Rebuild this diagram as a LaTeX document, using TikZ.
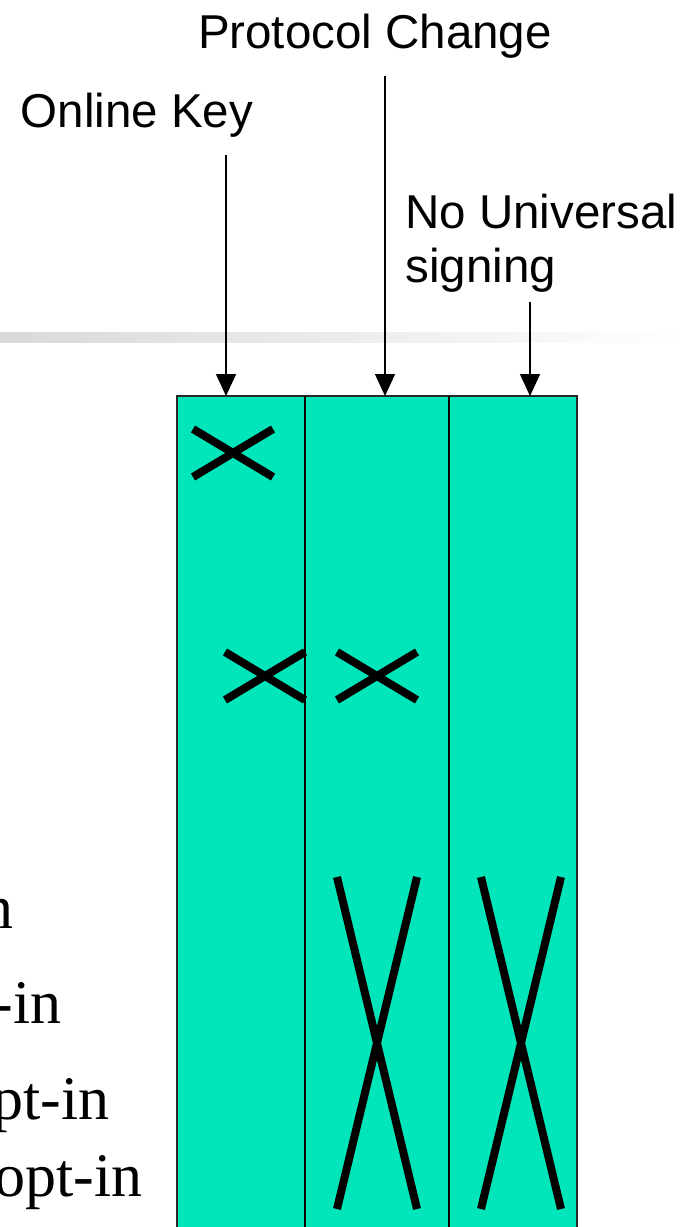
\documentclass[tikz,border=0pt]{standalone}
\usepackage{fontspec}
\setmainfont{Liberation Serif}
\newfontfamily\labelfont{Liberation Sans}
\usetikzlibrary{arrows.meta}
\definecolor{colfill}{RGB}{0,230,186}
\definecolor{colline}{RGB}{40,40,40}
\tikzset{
    toplabel/.style={font=\labelfont\fontsize{23.75}{28}\selectfont,inner xsep=0pt,inner ysep=9pt},
    sidetext/.style={font=\fontsize{31}{36}\selectfont,anchor=base east,inner sep=0pt},
    pointer/.style={line width=0.75pt,-{Triangle[width=10pt,length=11pt]}},
    cross/.style={line width=4pt}
}
\begin{document}
\begin{tikzpicture}[x=0.5pt,y=-0.5pt]
        \useasboundingbox (0,0) rectangle (684,1227);
        \clip (0,0) rectangle (684,1227);
        %% title bar
        \shade[left color=black!15,right color=white] (0,332) rectangle (684,342);
        %% columns
        \fill[colfill] (177,396) rectangle (577,1240);
        \foreach \cx/\cy/\hh in {233/453/24,265/676/24,377/676/24,377/1043/166,521/1043/166} {
            \draw[cross] (\cx-40,\cy-\hh) -- (\cx+40,\cy+\hh) (\cx-40,\cy+\hh) -- (\cx+40,\cy-\hh);
        }
        \draw[colline,line width=0.75pt] (177,1240) -- (177,396) -- (577,396) -- (577,1240);
        \draw[line width=1pt] (305,396) -- (305,1240) (449,396) -- (449,1240);
        \coordinate (c1) at (226,396);
        \coordinate (c2) at (385,396);
        \coordinate (c3) at (530,396);
        %% labels
        \node[toplabel,anchor=base] (key) at (137,127) {Online Key};
        \node[toplabel,anchor=base] (proto) at (375,48) {Protocol Change};
        \node[toplabel,anchor=base west] (nous) at (405,228) {No Universal};
        \node[toplabel,anchor=base west] (sign) at (405,282) {signing};
        \draw[pointer] ([yshift=4pt]sign.south -| c3) -- (c3);
        \draw[pointer] (key.south -| c1) -- (c1);
        \draw[pointer] (proto.south -| c2) -- (c2);
        %% cut-off text
        \node[sidetext] (l1) at (14,928) {n};
        \node[sidetext] (l2) at (62,1023) {-in};
        \node[sidetext] (l3) at (110,1119) {pt-in};
        \node[sidetext] (l4) at (143,1196) {opt-in};
\end{tikzpicture}
\end{document}
